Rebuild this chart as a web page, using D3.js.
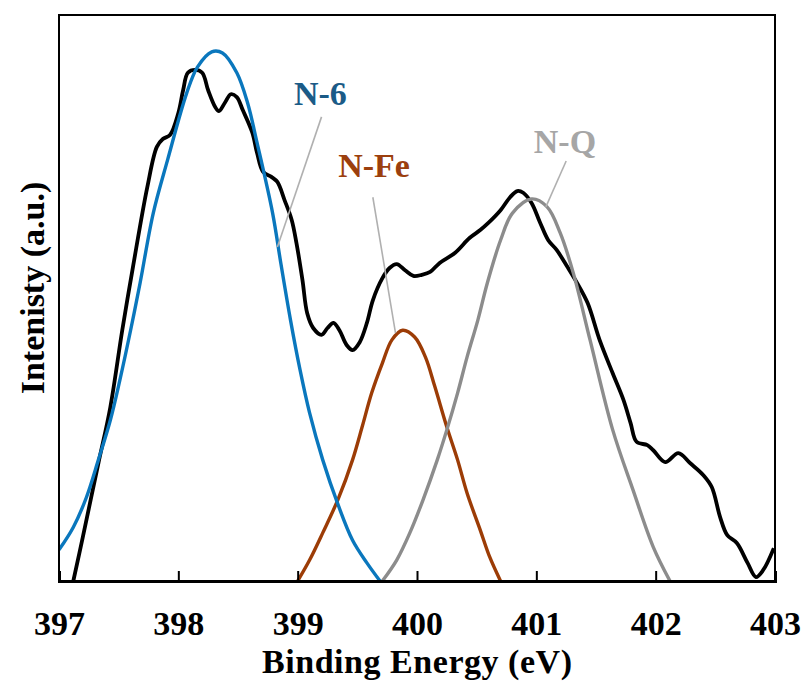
<!DOCTYPE html>
<html>
<head>
    <title>N 1s XPS</title>
    <script src="https://cdn.jsdelivr.net/npm/d3@7"></script>
    <style>
        body {
            margin: 0;
            background-color: white;
        }
        text {
            font-family: "Liberation Serif", "Times New Roman", serif;
            font-weight: bold;
        }
    </style>
</head>
<body>
    <div id="chart"></div>

    <script>
        // measured spectrum (binding energy eV, intensity a.u.)
        const measured = [
            [397.12, 0], [397.20, 7.8], [397.33, 20.8], [397.43, 30.7], [397.53, 44.3],
            [397.62, 55.5], [397.74, 69.6], [397.82, 76.7], [397.87, 78.1],
            [397.93, 78.8], [398.00, 82.7], [398.04, 86.7], [398.08, 89.8], [398.14, 90.3],
            [398.20, 89.8], [398.25, 86.7], [398.31, 83.7], [398.34, 83.0], [398.39, 84.5],
            [398.44, 86.0], [398.49, 85.5], [398.54, 83.2], [398.62, 79.2], [398.66, 75.6],
            [398.71, 72.3], [398.78, 71.4], [398.83, 70.5], [398.89, 67.3], [398.95, 63.8],
            [398.99, 59.7], [399.04, 53.2], [399.08, 47.3], [399.13, 44.7], [399.20, 43.5],
            [399.25, 44.7], [399.30, 45.6], [399.35, 44.3], [399.41, 41.7], [399.46, 40.8],
            [399.52, 42.2], [399.58, 45.6], [399.63, 49.6], [399.71, 53.5], [399.77, 55.3],
            [399.83, 56.0], [399.90, 54.9], [399.97, 53.9], [400.04, 54.1], [400.11, 54.6],
            [400.19, 56.2], [400.32, 58.0], [400.44, 60.6], [400.53, 62.0], [400.60, 63.3],
            [400.70, 65.5], [400.78, 67.8], [400.84, 68.9], [400.89, 68.6], [400.96, 66.8],
            [401.03, 63.4], [401.10, 60.2], [401.17, 58.5], [401.26, 55.5], [401.34, 52.7],
            [401.43, 49.1], [401.53, 42.6], [401.64, 36.7], [401.73, 32.0], [401.79, 27.9],
            [401.84, 24.6], [401.93, 24.0], [401.98, 23.1], [402.08, 21.0], [402.19, 22.6],
            [402.29, 20.8], [402.40, 18.7], [402.47, 16.6], [402.54, 11.3], [402.60, 8.1],
            [402.68, 6.7], [402.77, 3.2], [402.84, 0.7], [402.90, 1.9], [402.99, 5.8]
        ];

        // fitted components
        const n6 = [
            [397.00, 5.5], [397.12, 9.5], [397.23, 14.8], [397.33, 21.4], [397.43, 28.4],
            [397.51, 35.5], [397.60, 44.3], [397.68, 52.7], [397.79, 65.0], [397.91, 74.4],
            [398.07, 86.2], [398.16, 90.8], [398.28, 93.5], [398.37, 93.3], [398.49, 89.8],
            [398.58, 84.5], [398.66, 77.4], [398.79, 65.0], [398.86, 56.0], [398.94, 46.1],
            [399.02, 37.3], [399.10, 29.7], [399.21, 21.4], [399.34, 13.4], [399.46, 7.2],
            [399.58, 3.2], [399.69, 0]
        ];
        const nFe = [
            [399.00, 0], [399.10, 3.7], [399.21, 8.5], [399.34, 14.5], [399.46, 21.4],
            [399.54, 27.2], [399.62, 33.2], [399.71, 38.5], [399.79, 42.6], [399.88, 44.3],
            [399.98, 43.1], [400.07, 39.6], [400.15, 34.3], [400.25, 27.2], [400.34, 21.4],
            [400.42, 15.5], [400.53, 9.0], [400.61, 4.2], [400.70, 0]
        ];
        const nQ = [
            [399.71, 0], [399.83, 3.7], [399.94, 8.5], [400.05, 14.3], [400.17, 21.4],
            [400.25, 26.7], [400.34, 33.2], [400.42, 39.6], [400.51, 46.1], [400.59, 52.7],
            [400.70, 60.2], [400.80, 65.0], [400.96, 67.5], [401.09, 66.1], [401.20, 61.5],
            [401.31, 54.4], [401.45, 42.6], [401.64, 26.7], [401.81, 16.1], [401.98, 6.0],
            [402.12, 0]
        ];

        const xTicks = [397, 398, 399, 400, 401, 402, 403];

        // label text, label anchor, leader start, leader end
        const labels = [
            { text: "N-6", x: 399.19, y: 84.1, x1: 399.20, y1: 82.0, x2: 398.83, y2: 59.0 },
            { text: "N-Fe", x: 399.64, y: 71.4, x1: 399.63, y1: 67.8, x2: 399.82, y2: 43.8 },
            { text: "N-Q", x: 401.24, y: 75.6, x1: 401.25, y1: 74.2, x2: 401.08, y2: 66.1 }
        ];

        const margin = { top: 15, right: 28, bottom: 101, left: 59 };
        const width = 803 - margin.left - margin.right;
        const height = 682 - margin.top - margin.bottom;

        const svg = d3.select("#chart")
            .append("svg")
            .attr("width", 803)
            .attr("height", 682)
            .append("g")
            .attr("transform", `translate(${margin.left},${margin.top})`);

        const x = d3.scaleLinear().domain([397, 403]).range([0, width]);
        const y = d3.scaleLinear().domain([0, 100]).range([height, 0]);

        svg.append("clipPath").attr("id", "plot")
            .append("rect").attr("width", width).attr("height", height);

        const line = d3.line()
            .x(d => x(d[0]))
            .y(d => y(d[1]))
            .curve(d3.curveCatmullRom.alpha(0.5));

        const curves = [
            { data: measured, color: "#000000", w: 3.8 },
            { data: nFe, color: "#9c3c06", w: 3.4 },
            { data: nQ, color: "#8c8c8c", w: 3.4 },
            { data: n6, color: "#0a77bd", w: 3.4 }
        ];
        const colors = { "N-6": "#1b5b87", "N-Fe": "#9c3f0e", "N-Q": "#a6a6a6" };

        const plot = svg.append("g").attr("clip-path", "url(#plot)");
        plot.selectAll("path")
            .data(curves)
            .enter()
            .append("path")
            .attr("d", d => line(d.data))
            .attr("fill", "none")
            .attr("stroke", d => d.color)
            .attr("stroke-width", d => d.w)
            .attr("stroke-linejoin", "round");

        // leader lines + labels
        svg.selectAll(".leader")
            .data(labels)
            .enter()
            .append("line")
            .attr("class", "leader")
            .attr("x1", d => x(d.x1)).attr("y1", d => y(d.y1))
            .attr("x2", d => x(d.x2)).attr("y2", d => y(d.y2))
            .attr("stroke", "#b0b0b0")
            .attr("stroke-width", 1.6);

        svg.selectAll(".lbl")
            .data(labels)
            .enter()
            .append("text")
            .attr("class", "lbl")
            .attr("x", d => x(d.x))
            .attr("y", d => y(d.y))
            .attr("text-anchor", "middle")
            .style("font-size", "34px")
            .attr("fill", d => colors[d.text])
            .text(d => d.text);

        // frame
        svg.append("rect")
            .attr("width", width)
            .attr("height", height)
            .attr("fill", "none")
            .attr("stroke", "#000")
            .attr("stroke-width", 2);

        // X axis, ticks point inward
        const xAxis = svg.append("g")
            .attr("transform", `translate(0,${height})`)
            .call(d3.axisBottom(x).tickValues(xTicks).tickSize(-10).tickPadding(0).tickFormat(d3.format("d")));
        xAxis.select(".domain").attr("stroke-width", 3);
        xAxis.selectAll(".tick line").attr("stroke-width", 2);
        xAxis.selectAll(".tick text")
            .attr("y", 54)
            .attr("dy", 0)
            .style("font-size", "34px")
            .style("font-family", "'Liberation Serif', 'Times New Roman', serif")
            .style("font-weight", "bold")
            .attr("fill", "#000");

        svg.append("text")
            .attr("x", width / 2)
            .attr("y", height + 92)
            .attr("text-anchor", "middle")
            .attr("textLength", 310)
            .attr("lengthAdjust", "spacing")
            .style("font-size", "34px")
            .text("Binding Energy (eV)");

        svg.append("text")
            .attr("transform", `translate(-15,${273}) rotate(-90)`)
            .attr("text-anchor", "middle")
            .style("font-size", "34px")
            .text("Intenisty (a.u.)");
    </script>
</body>
</html>
